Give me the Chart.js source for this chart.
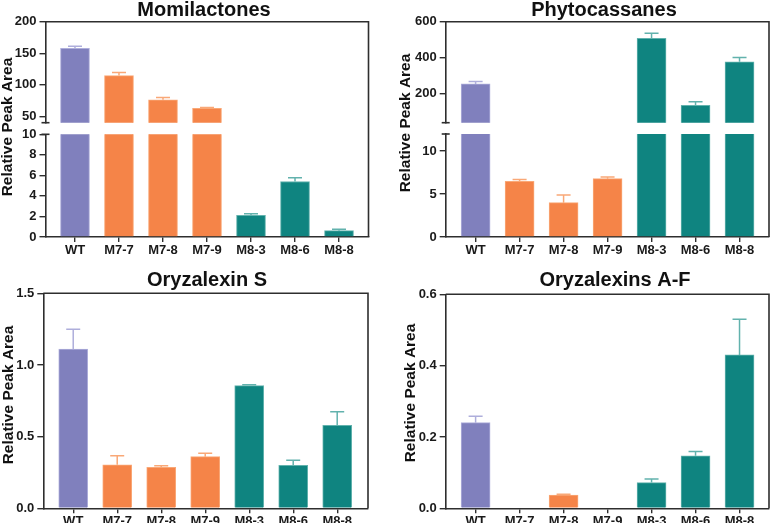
<!DOCTYPE html>
<html>
<head>
<meta charset="utf-8">
<script src="https://cdn.jsdelivr.net/npm/chart.js@4.4.1/dist/chart.umd.min.js"></script>
<style>
  html, body { margin: 0; padding: 0; background: #fff; }
  #wrap { position: relative; width: 771px; height: 523px; }
  #wrap canvas { position: absolute; left: 0; top: 0; }
</style>
</head>
<body>
<div id="wrap"></div>
<script>
// Lines and groups
const categories = ['WT', 'M7-7', 'M7-8', 'M7-9', 'M8-3', 'M8-6', 'M8-8'];
const groups = ['WT', 'M7', 'M7', 'M7', 'M8', 'M8', 'M8'];

// Mean relative peak area and SD (upper whisker) per line
const momilactones = [158, 114.7, 76.3, 62.6, 2.12, 5.4, 0.62];
const momilactonesSd = [3, 5, 3.7, 1.4, 0.15, 0.36, 0.13];
const phytocassanes = [255, 6.5, 4.0, 6.8, 508, 136, 378];
const phytocassanesSd = [14, 0.2, 0.9, 0.2, 28, 20, 24];
const oryzalexinS = [1.11, 0.304, 0.286, 0.36, 0.856, 0.30, 0.579];
const oryzalexinSSd = [0.14, 0.063, 0.011, 0.024, 0.006, 0.035, 0.095];
const oryzalexinsAF = [0.24, 0, 0.0374, 0, 0.072, 0.147, 0.43];
const oryzalexinsAFSd = [0.018, 0, 0.002, 0, 0.01, 0.012, 0.1];

// Tick labels
const momUpperTicks = [50, 100, 150, 200];
const momLowerTicks = [0, 2, 4, 6, 8, 10];
const phyUpperTicks = [200, 400, 600];
const phyLowerTicks = [0, 5, 10];
const oryzSTicks = [0, 0.5, 1.0, 1.5];
const oryzAFTicks = [0, 0.2, 0.4, 0.6];

const fill = { WT: '#8080bd', M7: '#f58448', M8: '#0f8480' };
const edge = { WT: '#aeaedb', M7: '#f9a877', M8: '#62b2ad' };
const axisColor = '#2e2e2e';
const W = 771, H = 523;
const yAxisW = 40;
const fontFamily = '"Liberation Sans", Arial, sans-serif';

// error bars (upper whisker only)
const errorBars = {
    id: 'errorBars',
    afterDatasetsDraw(chart) {
        const { ctx, chartArea: a } = chart;
        const y = chart.scales.y;
        const ds = chart.data.datasets[0];
        const meta = chart.getDatasetMeta(0);
        ctx.save();
        ctx.beginPath();
        ctx.rect(a.left, a.top - 1, a.right - a.left, a.bottom - a.top + 1);
        ctx.clip();
        meta.data.forEach((bar, i) => {
            const v = ds.data[i].y;
            const e = ds.errors[i];
            if (v == null || !e) return;
            const top = y.getPixelForValue(v + e);
            const base = y.getPixelForValue(v);
            ctx.strokeStyle = edge[groups[i]];
            ctx.lineWidth = 1.5;
            ctx.beginPath();
            ctx.moveTo(bar.x, base);
            ctx.lineTo(bar.x, top);
            ctx.moveTo(bar.x - 7, top);
            ctx.lineTo(bar.x + 7, top);
            ctx.stroke();
        });
        ctx.restore();
    }
};

// frame, axis break caps, panel title and y title
const panelDecor = {
    id: 'panelDecor',
    afterDraw(chart, args, opts) {
        const { ctx, chartArea: a } = chart;
        ctx.save();
        ctx.strokeStyle = axisColor;
        ctx.lineWidth = 1.6;
        if (opts.frameTop != null) {
            ctx.beginPath();
            ctx.moveTo(a.left, opts.frameTop);
            ctx.lineTo(a.right, opts.frameTop);
            ctx.lineTo(a.right, a.bottom);
            ctx.stroke();
        }
        if (opts.cap) {
            const cy = opts.cap === 'top' ? a.top : a.bottom;
            ctx.beginPath();
            ctx.moveTo(a.left - 4, cy);
            ctx.lineTo(a.left + 4, cy);
            ctx.stroke();
        }
        ctx.fillStyle = '#111';
        if (opts.title) {
            ctx.font = 'bold 20px ' + fontFamily;
            ctx.textAlign = 'center';
            ctx.textBaseline = 'alphabetic';
            ctx.fillText(opts.title.text, opts.title.x, opts.title.y);
        }
        if (opts.yLabel) {
            ctx.font = 'bold 15.5px ' + fontFamily;
            ctx.translate(opts.yLabel.x, opts.yLabel.y);
            ctx.rotate(-Math.PI / 2);
            ctx.textAlign = 'center';
            ctx.textBaseline = 'middle';
            ctx.fillText('Relative Peak Area', 0, 0);
        }
        ctx.restore();
    }
};

function drawPart(p) {
    const canvas = document.createElement('canvas');
    canvas.width = W;
    canvas.height = H;
    document.getElementById('wrap').appendChild(canvas);

    const xAxisH = p.showX ? p.xAxisH : 0;
    const values = p.values.map(v => (v >= p.yMin ? v : null));

    return new Chart(canvas.getContext('2d'), {
        type: 'bar',
        data: {
            datasets: [{
                data: values.map((v, i) => ({ x: i, y: v })),
                errors: p.sd,
                backgroundColor: groups.map(g => fill[g]),
                borderColor: groups.map(g => edge[g]),
                borderWidth: 1,
                barThickness: 29
            }]
        },
        options: {
            responsive: false,
            animation: false,
            layout: {
                padding: {
                    left: p.area.left - yAxisW,
                    right: W - p.area.right,
                    top: p.area.top,
                    bottom: H - p.area.bottom - xAxisH
                }
            },
            plugins: {
                legend: { display: false },
                tooltip: { enabled: false },
                panelDecor: p.decor || {}
            },
            scales: {
                x: {
                    type: 'linear',
                    offset: false,
                    min: p.xMin,
                    max: p.xMax,
                    display: p.showX,
                    afterBuildTicks: s => { s.ticks = categories.map((c, i) => ({ value: i })); },
                    afterFit: s => { s.height = xAxisH; },
                    ticks: {
                        callback: v => categories[v],
                        autoSkip: false,
                        maxRotation: 0,
                        padding: p.xPad,
                        color: '#1a1a1a',
                        font: { family: fontFamily, size: 13, weight: 'bold' }
                    },
                    grid: { offset: false, drawOnChartArea: false, tickLength: 5, color: axisColor, lineWidth: 1.4 },
                    border: { color: axisColor, width: 1.6 }
                },
                y: {
                    min: p.yMin,
                    max: p.yMax,
                    afterBuildTicks: s => { s.ticks = p.yTicks.map(v => ({ value: v })); },
                    afterFit: s => { s.width = yAxisW; },
                    ticks: {
                        callback: v => v.toFixed(p.decimals),
                        padding: 3,
                        color: '#1a1a1a',
                        font: { family: fontFamily, size: 13, weight: 'bold' }
                    },
                    grid: { drawOnChartArea: false, tickLength: 6, color: axisColor, lineWidth: 1.4 },
                    border: { color: axisColor, width: 1.6 }
                }
            }
        },
        plugins: [errorBars, panelDecor]
    });
}

// Momilactones (broken axis)
drawPart({
    values: momilactones, sd: momilactonesSd,
    area: { left: 45.5, top: 134.3, right: 368.5, bottom: 237 },
    xMin: -0.67, xMax: 6.67, yMin: 0, yMax: 10, yTicks: momLowerTicks, decimals: 0,
    showX: true, xAxisH: 25, xPad: 1,
    decor: { frameTop: 21.7, cap: 'top', title: { text: 'Momilactones', x: 204, y: 15.5 }, yLabel: { x: 8, y: 127 } }
});
drawPart({
    values: momilactones, sd: momilactonesSd,
    area: { left: 45.5, top: 21.7, right: 368.5, bottom: 122.7 },
    xMin: -0.67, xMax: 6.67, yMin: 40, yMax: 200, yTicks: momUpperTicks, decimals: 0,
    showX: false,
    decor: { cap: 'bottom' }
});

// Phytocassanes (broken axis)
drawPart({
    values: phytocassanes, sd: phytocassanesSd,
    area: { left: 445.7, top: 134, right: 769, bottom: 237 },
    xMin: -0.68, xMax: 6.67, yMin: 0, yMax: 12, yTicks: phyLowerTicks, decimals: 0,
    showX: true, xAxisH: 25, xPad: 1,
    decor: { frameTop: 21.7, cap: 'top', title: { text: 'Phytocassanes', x: 604, y: 15.5 }, yLabel: { x: 406, y: 123 } }
});
drawPart({
    values: phytocassanes, sd: phytocassanesSd,
    area: { left: 445.7, top: 21.7, right: 769, bottom: 122.7 },
    xMin: -0.68, xMax: 6.67, yMin: 40, yMax: 600, yTicks: phyUpperTicks, decimals: 0,
    showX: false,
    decor: { cap: 'bottom' }
});

// Oryzalexin S
drawPart({
    values: oryzalexinS, sd: oryzalexinSSd,
    area: { left: 43.3, top: 293.3, right: 368, bottom: 508.3 },
    xMin: -0.68, xMax: 6.70, yMin: 0, yMax: 1.5, yTicks: oryzSTicks, decimals: 1,
    showX: true, xAxisH: H - 508.3, xPad: 0,
    decor: { frameTop: 293.3, title: { text: 'Oryzalexin S', x: 207, y: 285.5 }, yLabel: { x: 8.5, y: 395 } }
});

// Oryzalexins A-F
drawPart({
    values: oryzalexinsAF, sd: oryzalexinsAFSd,
    area: { left: 445.7, top: 294.3, right: 769, bottom: 508.3 },
    xMin: -0.68, xMax: 6.67, yMin: 0, yMax: 0.6, yTicks: oryzAFTicks, decimals: 1,
    showX: true, xAxisH: H - 508.3, xPad: 0,
    decor: { frameTop: 294.3, title: { text: 'Oryzalexins A-F', x: 615, y: 285.5 }, yLabel: { x: 411, y: 393 } }
});
</script>
</body>
</html>
